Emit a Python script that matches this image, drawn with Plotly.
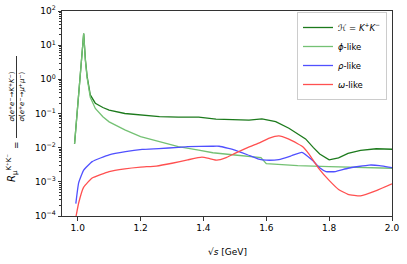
import plotly.graph_objects as go

# ---------------- data ----------------
x_total = [0.99, 1.019, 1.0245, 1.030, 1.040, 1.056, 1.08, 1.10, 1.15, 1.20, 1.26, 1.32, 1.385, 1.44,
           1.503, 1.545, 1.586, 1.63, 1.672, 1.70, 1.725, 1.75, 1.77, 1.80, 1.83, 1.86, 1.90, 1.95, 2.0]
y_total = [0.013, 22, 3.7, 1.2, 0.35, 0.20, 0.15, 0.126, 0.10, 0.089, 0.081, 0.078, 0.078, 0.068,
           0.064, 0.064, 0.070, 0.058, 0.037, 0.025, 0.018, 0.010, 0.0065, 0.0044, 0.0050, 0.0068, 0.0083, 0.0093, 0.0090]

x_phi = [0.99, 1.019, 1.0245, 1.030, 1.040, 1.056, 1.08, 1.10, 1.15, 1.20, 1.26, 1.32, 1.385, 1.43,
         1.50, 1.583, 1.60, 1.70, 1.80, 1.90, 2.0]
y_phi = [0.013, 22, 3.5, 1.1, 0.30, 0.14, 0.08, 0.057, 0.033, 0.021, 0.015, 0.0107, 0.0085, 0.0071,
         0.0061, 0.0051, 0.0034, 0.0030, 0.0028, 0.0026, 0.0025]

x_rho = [0.994, 1.003, 1.019, 1.046, 1.10, 1.152, 1.205, 1.258, 1.32, 1.35, 1.427, 1.45, 1.48, 1.50,
         1.54, 1.576, 1.60, 1.64, 1.68, 1.713, 1.745, 1.77, 1.79, 1.82, 1.86, 1.927, 1.96, 2.0]
y_rho = [2.3e-4, 9.3e-4, 2.2e-3, 3.9e-3, 6.2e-3, 7.7e-3, 8.9e-3, 9.4e-3, 0.0102, 0.0107, 0.011, 0.011, 0.0095, 0.0085,
         0.0062, 0.0046, 0.0043, 0.0045, 0.0058, 0.0073, 0.0044, 0.0026, 0.0020, 0.0020, 0.0025, 0.0031, 0.0030, 0.0026]

x_omega = [0.994, 1.003, 1.019, 1.046, 1.10, 1.15, 1.20, 1.25, 1.30, 1.35, 1.395, 1.42, 1.443, 1.47, 1.50,
           1.535, 1.576, 1.61, 1.64, 1.67, 1.70, 1.717, 1.736, 1.768, 1.80, 1.83, 1.86, 1.90, 1.95, 2.0]
y_omega = [9e-5, 2.4e-4, 7e-4, 1.3e-3, 2.0e-3, 2.4e-3, 2.7e-3, 2.9e-3, 3.5e-3, 4.4e-3, 5.3e-3, 4.8e-3, 4.3e-3, 5.0e-3, 6.8e-3,
           9.5e-3, 0.0135, 0.019, 0.022, 0.018, 0.013, 0.0105, 0.0065, 0.0024, 0.0011, 6e-4, 4.3e-4, 3.9e-4, 5.5e-4, 8.7e-4]

x_ticks = [1.0, 1.2, 1.4, 1.6, 1.8, 2.0]
x_ticklabels = ["1.0", "1.2", "1.4", "1.6", "1.8", "2.0"]
y_ticks = [1e-4, 1e-3, 1e-2, 1e-1, 1e0, 1e1, 1e2]
y_ticklabels = ["10<sup>−4</sup>", "10<sup>−3</sup>", "10<sup>−2</sup>", "10<sup>−1</sup>",
                "10<sup>0</sup>", "10<sup>1</sup>", "10<sup>2</sup>"]

names = ["<i>ℋ</i> = <i>K</i><sup>+</sup><i>K</i><sup>−</sup>", "<i>ϕ</i>-like", "<i>ρ</i>-like", "<i>ω</i>-like"]
colors = ["#1c7a1c", "#74c174", "#5050ff", "#ff5050"]

# ---------------- figure ----------------
FONT = "DejaVu Sans"
fig = go.Figure()
series = [(x_total, y_total), (x_phi, y_phi), (x_rho, y_rho), (x_omega, y_omega)]
for (xs, ys), nm, c in zip(series, names, colors):
    fig.add_trace(go.Scatter(x=xs, y=ys, mode="lines", name=nm,
                             line=dict(color=c, width=1.3, shape="spline", smoothing=0.4)))
# keep the spike sharp for the first two series
fig.data[0].line.shape = "linear"
fig.data[1].line.shape = "linear"

W, H = 407, 264
L, R, T, B = 62, 15, 11, 48
pw, ph = W - L - R, H - T - B

def px(xp):   # page pixel -> paper x
    return (xp - L) / pw

def py(yp):   # page pixel -> paper y
    return (H - B - yp) / ph

fig.update_layout(
    width=W, height=H,
    margin=dict(l=L, r=R, t=T, b=B, pad=0, autoexpand=False),
    paper_bgcolor="white", plot_bgcolor="white",
    font=dict(family=FONT, size=9, color="black"),
    showlegend=True,
    legend=dict(x=px(387), y=py(12), xanchor="right", yanchor="top",
                bgcolor="rgba(255,255,255,0.9)", bordercolor="#cccccc", borderwidth=1,
                font=dict(size=8.5), tracegroupgap=0),
    xaxis=dict(range=[0.95, 2.0], tickvals=x_ticks, ticktext=x_ticklabels, automargin=False,
               showgrid=False, zeroline=False, showline=True, linecolor="#333", linewidth=1,
               mirror=True, ticks="outside", ticklen=3.5, tickcolor="#333", ticklabeloverflow="allow"),
    yaxis=dict(type="log", range=[-4, 2], tickvals=y_ticks, ticktext=y_ticklabels, automargin=False,
               showgrid=False, zeroline=False, showline=True, linecolor="#333", linewidth=1,
               mirror=True, ticks="outside", ticklen=3.5, tickcolor="#333", ticklabeloverflow="allow",
               minor=dict(ticks="outside", ticklen=2, tickcolor="#333", dtick="D1", showgrid=False)),
)

ann = []
ann.append(dict(text="√<i>s</i> [GeV]", x=0.5, y=py(252), xref="paper", yref="paper",
                showarrow=False, xanchor="center", yanchor="middle", font=dict(size=9)))
ann.append(dict(text="<i>R</i><sub>μ</sub><sup>K⁺K⁻</sup>",
                x=px(12), y=py(168), xref="paper", yref="paper", textangle=-90,
                showarrow=False, xanchor="center", yanchor="middle", font=dict(size=10)))
ann.append(dict(text="=", x=px(16), y=py(145), xref="paper", yref="paper", textangle=-90,
                showarrow=False, xanchor="center", yanchor="middle", font=dict(size=9)))
ann.append(dict(text="<i>σ</i>(<i>e</i><sup>+</sup><i>e</i><sup>−</sup>→<i>K</i><sup>+</sup><i>K</i><sup>−</sup>)",
                x=px(11.5), y=py(97), xref="paper", yref="paper", textangle=-90,
                showarrow=False, xanchor="center", yanchor="middle", font=dict(size=7)))
ann.append(dict(text="<i>σ</i>(<i>e</i><sup>+</sup><i>e</i><sup>−</sup>→<i>μ</i><sup>+</sup><i>μ</i><sup>−</sup>)",
                x=px(21.5), y=py(97), xref="paper", yref="paper", textangle=-90,
                showarrow=False, xanchor="center", yanchor="middle", font=dict(size=7)))
fig.update_layout(annotations=ann)
fig.add_shape(type="line", xref="paper", yref="paper", x0=px(16.5), x1=px(16.5),
              y0=py(138), y1=py(56), line=dict(color="black", width=0.8))

# remove the browser's default body margin so the figure sits at the page origin
fig.write_html("out.html", config={"displayModeBar": False},
               post_script="document.body.style.margin='0';")
